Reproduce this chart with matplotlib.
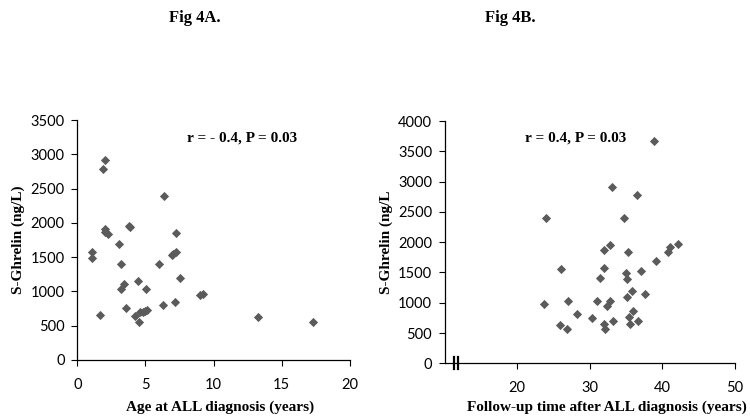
import numpy as np
import matplotlib
matplotlib.use('Agg')
import matplotlib.pyplot as plt
import matplotlib.transforms as mtransforms

# Fig 4A: age at ALL diagnosis vs S-Ghrelin
age_years = [2.03, 1.9, 6.38, 2.03, 2.0, 2.27, 3.81, 3.85, 7.24, 3.08, 1.10, 1.10,
             7.24, 7.04, 6.92, 3.23, 6.01, 7.53, 4.43, 3.45, 3.21, 5.04, 9.0, 9.2,
             6.31, 7.16, 3.59, 1.64, 4.21, 4.6, 4.79, 4.96, 5.08, 4.52, 13.27, 17.3]
ghrelin_a = [2915, 2784, 2391, 1915, 1866, 1837, 1954, 1940, 1856, 1691, 1570, 1492,
             1570, 1545, 1526, 1404, 1404, 1191, 1147, 1103, 1030, 1030, 948, 962,
             802, 846, 758, 651, 641, 695, 695, 714, 729, 559, 632, 559]

# Fig 4B: follow-up time vs S-Ghrelin
followup_years = [33.0, 36.5, 24.0, 34.7, 32.85, 31.97, 35.27, 42.2, 41.1, 40.77, 39.08,
                  26.05, 31.97, 37.1, 34.95, 31.42, 35.13, 35.82, 37.66, 35.08, 23.63,
                  27.0, 31.0, 32.85, 32.43, 28.3, 35.96, 30.27, 35.4, 33.2, 36.64, 35.5,
                  25.87, 31.97, 26.88, 32.16, 38.9]
ghrelin_b = [2914, 2777, 2403, 2403, 1947, 1864, 1842, 1968, 1914, 1842, 1693,
             1556, 1572, 1518, 1490, 1407, 1396, 1198, 1143, 1094, 978,
             1028, 1028, 1028, 940, 808, 858, 742, 759, 703, 703, 654,
             637, 643, 566, 566, 3668]

xticks_a = [0, 5, 10, 15, 20]
yticks_a = np.arange(0, 3501, 500)
xticks_b = [20, 30, 40, 50]
yticks_b = np.arange(0, 4001, 500)
break_marks = [11.3, 11.9]

plt.rcParams['font.family'] = ['Lato', 'DejaVu Sans']

marker_color = '#5b5b5b'
label_font = {'family': 'Liberation Serif', 'weight': 'bold', 'size': 11}

fig = plt.figure(figsize=(7.5, 4.17), dpi=100)
ax1 = fig.add_axes([0.103, 0.1367, 0.3636, 0.5755])
ax2 = fig.add_axes([0.5928, 0.1288, 0.3872, 0.581])


def style_axes(ax):
    for side in ['top', 'right']:
        ax.spines[side].set_visible(False)
    for side in ['left', 'bottom']:
        ax.spines[side].set_linewidth(0.9)
        ax.spines[side].set_color('black')
    ax.tick_params(direction='out', length=4, width=0.8, labelsize=10.5, pad=5)
    ax.tick_params(axis='x', pad=9)


ax1.scatter(age_years, ghrelin_a, marker='D', s=22, color=marker_color, linewidths=0, zorder=3)
ax1.set_xlim(0, 20)
ax1.set_ylim(0, 3500)
ax1.set_xticks(xticks_a)
ax1.set_yticks(yticks_a)
style_axes(ax1)
ax1.set_xlabel('Age at ALL diagnosis (years)', fontdict=label_font)
ax1.set_ylabel('S-Ghrelin (ng/L)', fontdict=label_font)
ax1.xaxis.set_label_coords(0.523, -0.168)
ax1.yaxis.set_label_coords(-0.19, 0.5)
ax1.text(8.04, 3237, 'r = - 0.4, P = 0.03', fontdict=label_font, ha='left', va='center')

ax2.scatter(followup_years, ghrelin_b, marker='D', s=22, color=marker_color, linewidths=0, zorder=3)
ax2.set_xlim(10, 50)
ax2.set_ylim(0, 4000)
ax2.set_xticks(xticks_b)
ax2.set_yticks(yticks_b)
style_axes(ax2)
ax2.set_xlabel('Follow-up time after ALL diagnosis (years)', fontdict=label_font)
ax2.set_ylabel('S-Ghrelin (ng/L', fontdict=label_font)
ax2.xaxis.set_label_coords(0.56, -0.154)
ax2.yaxis.set_label_coords(-0.178, 0.5)
ax2.text(21.06, 3717, 'r = 0.4, P = 0.03', fontdict=label_font, ha='left', va='center')

# axis break marks
trans = mtransforms.blended_transform_factory(ax2.transData, ax2.transAxes)
for bx in break_marks:
    ax2.plot([bx, bx], [-0.025, 0.025], transform=trans, color='black', lw=1.6, clip_on=False)

fig.text(0.26, 0.975, 'Fig 4A.', ha='center', va='top', family='Liberation Serif', weight='bold', size=12)
fig.text(0.681, 0.975, 'Fig 4B.', ha='center', va='top', family='Liberation Serif', weight='bold', size=12)

fig.savefig('out.png', dpi=100)
